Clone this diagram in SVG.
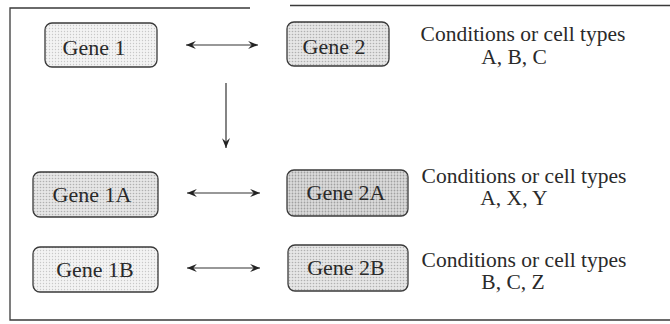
<svg xmlns="http://www.w3.org/2000/svg" width="670" height="324" viewBox="0 0 670 324">
  <style>
    .frame { fill: none; stroke: #3a3a3a; stroke-width: 1.3; }
    .box { stroke: #3a3a3a; stroke-width: 1.3; }
    .label { font-family: "Liberation Serif", "Times New Roman", serif; font-size: 22px; fill: #2a2a2a; text-anchor: middle; }
    .note { font-family: "Liberation Serif", "Times New Roman", serif; font-size: 21.5px; fill: #2a2a2a; text-anchor: middle; }
    .link { fill: none; stroke: #333; stroke-width: 1.2; }
  </style>
  <defs>
    <!-- halftone dot screens for the shaded boxes -->
    <pattern id="dotsLight" width="3" height="3" patternUnits="userSpaceOnUse">
      <rect width="3" height="3" fill="#f3f3f3"/>
      <circle cx="1.5" cy="1.5" r="0.7" fill="#c8c8c8"/>
    </pattern>
    <pattern id="dotsMid" width="3" height="3" patternUnits="userSpaceOnUse">
      <rect width="3" height="3" fill="#e6e6e6"/>
      <circle cx="1.5" cy="1.5" r="0.8" fill="#b0b0b0"/>
    </pattern>
    <pattern id="dotsDark" width="3" height="3" patternUnits="userSpaceOnUse">
      <rect width="3" height="3" fill="#dcdcdc"/>
      <circle cx="1.5" cy="1.5" r="0.9" fill="#a0a0a0"/>
    </pattern>
    <marker id="barb" viewBox="0 0 12 10" refX="11" refY="5" markerWidth="11" markerHeight="9" markerUnits="userSpaceOnUse" orient="auto-start-reverse">
      <path d="M11,5 L0,0.5 L4,5 L0,9.5 Z" fill="#222"/>
    </marker>
  </defs>

  <!-- outer frame -->
  <g id="frame">
    <path class="frame" d="M250,8 L10,8 L10,320 L670,320"/>
    <path class="frame" d="M290,5.5 L670,5.5"/>
  </g>

  <g id="connectors">
    <line class="link" x1="186" y1="45" x2="258" y2="45" marker-start="url(#barb)" marker-end="url(#barb)"/>
    <line class="link" x1="226" y1="83" x2="226" y2="148" marker-end="url(#barb)"/>
    <line class="link" x1="187" y1="193" x2="260" y2="193" marker-start="url(#barb)" marker-end="url(#barb)"/>
    <line class="link" x1="187" y1="268" x2="260" y2="268" marker-start="url(#barb)" marker-end="url(#barb)"/>
  </g>

  <g id="gene1">
    <rect class="box" x="45" y="23" width="112" height="44" rx="7" fill="url(#dotsLight)"/>
    <text class="label" x="94" y="55">Gene 1</text>
  </g>
  <g id="gene2">
    <rect class="box" x="287" y="22" width="102" height="44" rx="7" fill="url(#dotsMid)"/>
    <text class="label" x="334" y="54">Gene 2</text>
  </g>
  <g id="gene1A">
    <rect class="box" x="33" y="172" width="125" height="45" rx="7" fill="url(#dotsMid)"/>
    <text class="label" x="92" y="202">Gene 1A</text>
  </g>
  <g id="gene2A">
    <rect class="box" x="287" y="170" width="121" height="46" rx="7" fill="url(#dotsDark)"/>
    <text class="label" x="346" y="200">Gene 2A</text>
  </g>
  <g id="gene1B">
    <rect class="box" x="33" y="247" width="125" height="45" rx="7" fill="url(#dotsLight)"/>
    <text class="label" x="95" y="277">Gene 1B</text>
  </g>
  <g id="gene2B">
    <rect class="box" x="288" y="245" width="120" height="46" rx="7" fill="url(#dotsMid)"/>
    <text class="label" x="346" y="275">Gene 2B</text>
  </g>

  <g id="notes">
    <text class="note" x="523" y="41">Conditions or cell types</text>
    <text class="note" x="514" y="64">A, B, C</text>
    <text class="note" x="524" y="183">Conditions or cell types</text>
    <text class="note" x="514" y="205">A, X, Y</text>
    <text class="note" x="524" y="267">Conditions or cell types</text>
    <text class="note" x="513" y="289">B, C, Z</text>
  </g>
</svg>
